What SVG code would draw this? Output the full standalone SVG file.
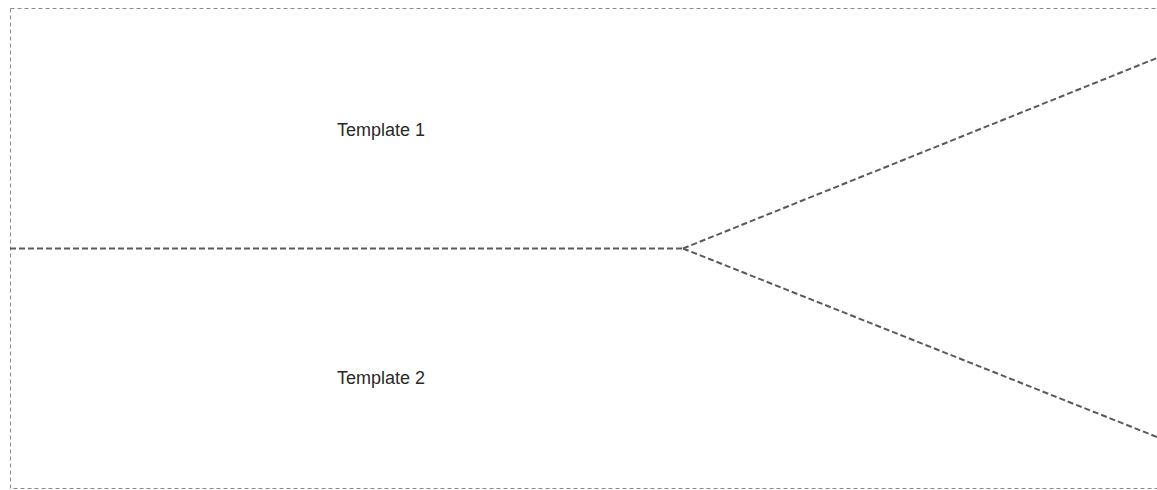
<svg xmlns="http://www.w3.org/2000/svg" width="1157" height="490" viewBox="0 0 1157 490">
<style>
.frame{fill:#fff;stroke:#8a8a8a;stroke-width:1;stroke-dasharray:4 3}
.conn{fill:none;stroke:#5a5a5a;stroke-width:2;stroke-dasharray:6 3}
.lbl{font-family:"Liberation Sans",Arial,sans-serif;font-size:18px;fill:#2a2a2a;text-anchor:middle}
</style>
<rect width="1157" height="490" fill="#fff"/>
<g id="frame">
<rect class="frame" x="10.5" y="8.5" width="1160" height="480"/>
</g>
<g id="template1"><text class="lbl" x="381" y="136">Template 1</text></g>
<g id="template2"><text class="lbl" x="381" y="384">Template 2</text></g>
<g id="connectors">
<path class="conn" d="M10 248.5 H683"/>
<path class="conn" d="M683 248.5 L1157 58"/>
<path class="conn" d="M683 248.5 L1157 437"/>
</g>
</svg>
